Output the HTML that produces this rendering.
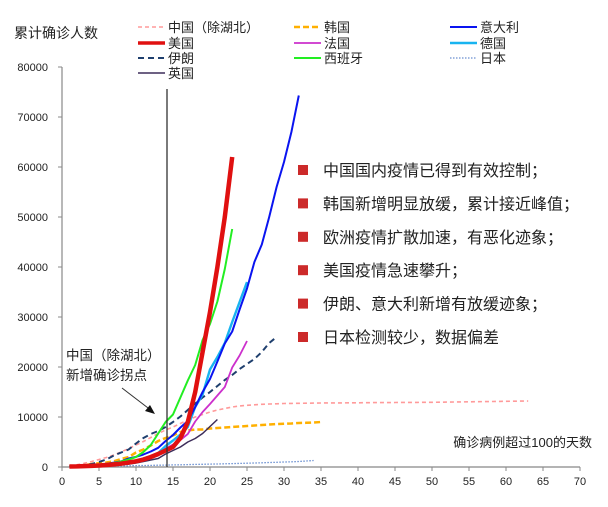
<!DOCTYPE html>
<html><head><meta charset="utf-8">
<style>
html,body{margin:0;padding:0;background:#fff;}
svg{display:block;font-family:"Liberation Sans","Noto Sans CJK SC",sans-serif;}
</style></head>
<body>
<svg id="chart" width="608" height="507" viewBox="0 0 608 507" xmlns="http://www.w3.org/2000/svg">
<rect width="608" height="507" fill="#fff"/>
<text x="14" y="38" font-size="14" fill="#222">累计确诊人数</text>
<g id="axes"></g>
<g id="series"></g>
<line x1="167" y1="89" x2="167" y2="467" stroke="#333" stroke-width="1.3"/>
<text x="66" y="360" font-size="13.5" fill="#222">中国（除湖北）</text>
<text x="66" y="380" font-size="13.5" fill="#222">新增确诊拐点</text>
<line x1="122" y1="388" x2="152" y2="411" stroke="#333" stroke-width="1"/>
<polygon points="155,414 145,411 150,405" fill="#111"/>
<text x="592" y="447" font-size="13" text-anchor="end" fill="#222">确诊病例超过100的天数</text>
<g id="legend"></g>
<g id="notes"></g>
</svg>
<script>
const xTicks=[0,5,10,15,20,25,30,35,40,45,50,55,60,65,70];
const yTicks=[0,10000,20000,30000,40000,50000,60000,70000,80000];
const chinaExHubei=[200,450,750,1100,1500,1900,2400,3000,3700,4400,5100,5900,6700,7400,8000,8700,9400,10000,10500,11000,11400,11700,12000,12200,12350,12450,12550,12600,12650,12700,12720,12740,12760,12780,12800,12810,12820,12830,12840,12850,12860,12870,12880,12890,12900,12910,12920,12930,12940,12950,12960,12980,13000,13020,13040,13060,13080,13100,13120,13140,13160,13180,13200];
const korea=[100,200,350,600,760,900,1150,1600,2000,2900,3500,4300,5200,5800,6300,7000,7300,7500,7500,7700,7800,7900,8000,8100,8200,8300,8400,8500,8600,8650,8700,8800,8850,8900,9000];
const italy=[100,150,230,320,450,650,890,1130,1700,2040,2500,3100,3850,5200,6400,7900,9200,12000,15000,17600,21100,24700,27100,31500,35700,41000,44500,50000,56000,61000,67000,74300];
const usa=[100,130,170,230,300,400,520,680,900,1150,1500,2000,2600,3300,4000,5800,9000,15000,23000,31000,40000,50000,62000];
const france=[100,130,190,240,290,380,500,650,950,1200,1400,1800,2300,3700,4500,5400,6600,9100,11000,12600,14300,16000,19900,22300,25200];
const germany=[100,130,160,200,260,350,480,650,850,1100,1500,2000,2800,4200,5300,6500,8000,12000,14500,19500,22000,24800,29000,33000,37000];
const iran=[100,250,400,600,1000,1500,2300,2900,3500,4700,5800,6600,7200,8000,9000,10100,11400,12700,13900,15000,16200,17400,18400,19600,20600,21600,23000,24800,26000];
const spain=[100,140,200,280,400,550,800,1100,1500,2000,3000,4400,6700,9000,10500,13900,17300,20400,25400,28600,33100,39600,47600];
const japan=[100,110,130,150,170,190,210,230,250,280,300,330,360,390,420,450,480,510,540,570,600,640,680,720,760,800,850,900,950,1000,1050,1100,1200,1300];
const uk=[100,120,160,200,260,320,380,460,590,800,1100,1400,1700,2600,3300,4000,5000,5700,6700,8100,9500];
const noteTexts=["中国国内疫情已得到有效控制；","韩国新增明显放缓，累计接近峰值；","欧洲疫情扩散加速，有恶化迹象；","美国疫情急速攀升；","伊朗、意大利新增有放缓迹象；","日本检测较少，数据偏差"];

const NS="http://www.w3.org/2000/svg";
const X0=62,X1=580,Y0=467,Y1=67;
function xs(d){return X0+(d/70)*(X1-X0);}
function ys(v){return Y0-(v/80000)*(Y0-Y1);}
function mk(tag,attrs,parent){const e=document.createElementNS(NS,tag);for(const k in attrs)e.setAttribute(k,attrs[k]);parent.appendChild(e);return e;}

const axes=document.getElementById('axes');
let a=mk('line',{x1:X0,y1:Y1,x2:X0,y2:Y0,stroke:'#888','stroke-width':1.2},axes);


a=mk('line',{x1:X0,y1:Y0,x2:X1,y2:Y0,stroke:'#888','stroke-width':1.2},axes);


yTicks.forEach(v=>{
  const t=mk('line',{x1:X0-4,y1:ys(v),x2:X0,y2:ys(v),stroke:'#888'},axes);
  
  
  const l=mk('text',{x:48,y:ys(v)+4,'font-size':11,'text-anchor':'end',fill:'#222'},axes);
  
  
  l.textContent=v;
});
xTicks.forEach(v=>{
  const t=mk('line',{x1:xs(v),y1:Y0,x2:xs(v),y2:Y0+4,stroke:'#888'},axes);
  
  
  const l=mk('text',{x:xs(v),y:485,'font-size':11,'text-anchor':'middle',fill:'#222'},axes);
  
  
  l.textContent=v;
});

const seriesList=[
 {name:'china-ex-hubei',label:'中国（除湖北）',data:chinaExHubei,color:'#ff9a9a',w:1.6,dash:'4,3',lx:138,ly:27},
 {name:'usa',label:'美国',data:usa,color:'#e01010',w:4.5,dash:'',lx:138,ly:43},
 {name:'iran',label:'伊朗',data:iran,color:'#1f3f6e',w:2,dash:'6,4',lx:138,ly:58},
 {name:'uk',label:'英国',data:uk,color:'#3d2d5a',w:1.5,dash:'',lx:138,ly:73},
 {name:'korea',label:'韩国',data:korea,color:'#ffb000',w:2.5,dash:'6,3',lx:294,ly:27},
 {name:'france',label:'法国',data:france,color:'#cc30cc',w:1.8,dash:'',lx:294,ly:43},
 {name:'spain',label:'西班牙',data:spain,color:'#22ee22',w:2,dash:'',lx:294,ly:58},
 {name:'italy',label:'意大利',data:italy,color:'#0a14f0',w:2,dash:'',lx:450,ly:27},
 {name:'germany',label:'德国',data:germany,color:'#18b4f0',w:2.4,dash:'',lx:450,ly:43},
 {name:'japan',label:'日本',data:japan,color:'#6a8fd0',w:1.3,dash:'1.5,1.5',lx:450,ly:58}
];
const sg=document.getElementById('series');
const order=['japan','china-ex-hubei','korea','uk','iran','france','germany','italy','spain','usa'];
order.forEach(n=>{
  const s=seriesList.find(q=>q.name===n);
  const pts=s.data.map((v,i)=>xs(i+1).toFixed(1)+','+ys(v).toFixed(1)).join(' ');
  const p=mk('polyline',{points:pts,fill:'none',stroke:s.color,'stroke-width':s.w,'stroke-linejoin':'round','stroke-linecap':'butt'},sg);
  if(s.dash)p.setAttribute('stroke-dasharray',s.dash);
  
  
});
const lg=document.getElementById('legend');
seriesList.forEach(s=>{
  const g=mk('g',{},lg);
  
  
  const ln=mk('line',{x1:s.lx,y1:s.ly,x2:s.lx+27,y2:s.ly,stroke:s.color,'stroke-width':Math.min(s.w,3.5)},g);
  if(s.dash)ln.setAttribute('stroke-dasharray',s.dash);
  
  
  const t=mk('text',{x:s.lx+30,y:s.ly+5,'font-size':13,fill:'#222'},g);
  
  
  t.textContent=s.label;
});
const ng=document.getElementById('notes');
noteTexts.forEach((txt,i)=>{
  const cy=170+i*33.4;
  const r=mk('rect',{x:298,y:cy-5,width:10,height:10,fill:'#cc2a2a'},ng);
  
  
  const t=mk('text',{x:323,y:cy+6,'font-size':16,fill:'#222'},ng);
  
  
  t.textContent=txt;
});
</script>
</body></html>
